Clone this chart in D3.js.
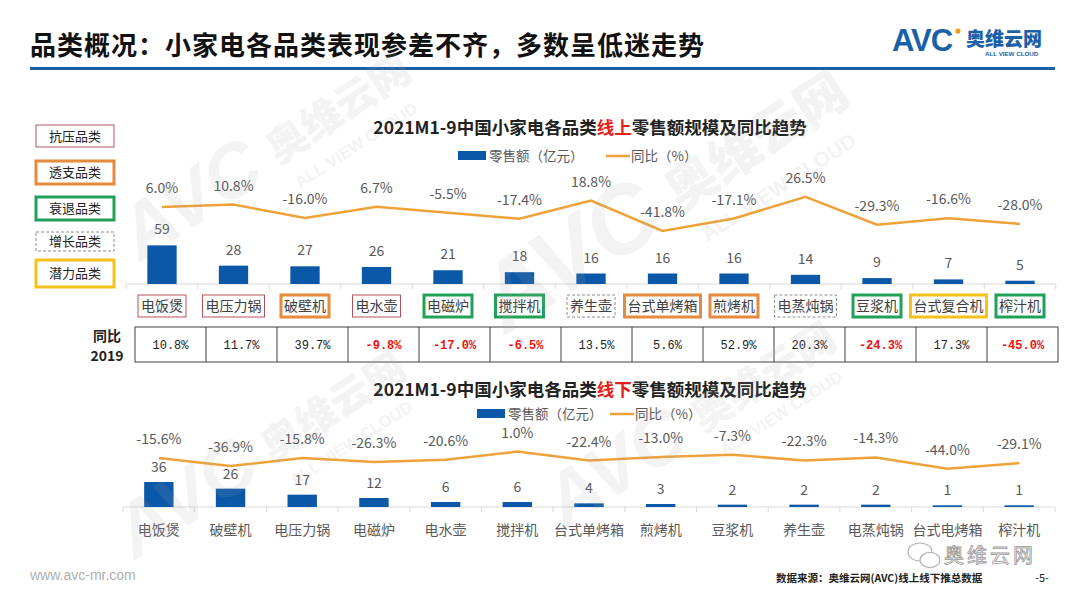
<!DOCTYPE html>
<html><head><meta charset="utf-8">
<script src="https://cdn.jsdelivr.net/npm/d3@7"></script>
<style>
body{margin:0;background:#fff;}
svg{display:block;font-family:"Noto Sans CJK SC","Noto Sans",sans-serif;}
</style></head><body>
<svg id="c" width="1080" height="608"></svg>
<script>
// ---------- data ----------
const pageTitle = "品类概况：小家电各品类表现参差不齐，多数呈低迷走势";
const onlineCats = ["电饭煲","电压力锅","破壁机","电水壶","电磁炉","搅拌机","养生壶","台式单烤箱","煎烤机","电蒸炖锅","豆浆机","台式复合机","榨汁机"];
const onlineSales = [59,28,27,26,21,18,16,16,16,14,9,7,5];
const onlineYoY = [6.0,10.8,-16.0,6.7,-5.5,-17.4,18.8,-41.8,-17.1,26.5,-29.3,-16.6,-28.0];
const onlineTypes = ["抗压","抗压","透支","抗压","衰退","衰退","增长","透支","透支","增长","衰退","潜力","衰退"];
const yoy2019 = [10.8,11.7,39.7,-9.8,-17.0,-6.5,13.5,5.6,52.9,20.3,-24.3,17.3,-45.0];
const offlineCats = ["电饭煲","破壁机","电压力锅","电磁炉","电水壶","搅拌机","台式单烤箱","煎烤机","豆浆机","养生壶","电蒸炖锅","台式电烤箱","榨汁机"];
const offlineSales = [36,26,17,12,6,6,4,3,2,2,2,1,1];
const offlineYoY = [-15.6,-36.9,-15.8,-26.3,-20.6,1.0,-22.4,-13.0,-7.3,-22.3,-14.3,-44.0,-29.1];
const typeKeys = ["抗压","透支","衰退","增长","潜力"];
const legendSales = "零售额（亿元）";
const legendYoY = "同比（%）";

// ---------- styles ----------
const BLUE = "#0b58a8", ORANGE = "#eea23a";
const typeStyle = {
  "抗压": {stroke:"#b5535c", w:1, dash:null},
  "透支": {stroke:"#e58a3e", w:3, dash:null},
  "衰退": {stroke:"#20a157", w:3, dash:null},
  "增长": {stroke:"#8c8c8c", w:1, dash:"3,2"},
  "潜力": {stroke:"#f5c21b", w:3, dash:null}
};

const svg = d3.select("#c");
svg.append("rect").attr("width",1080).attr("height",608).attr("fill","#fff");

// ---------- header ----------
svg.append("text").attr("x",30).attr("y",55).attr("font-size",26).attr("font-weight",700)
  .attr("letter-spacing",1).attr("fill","#111").text(pageTitle);
svg.append("rect").attr("x",30).attr("y",67).attr("width",1025).attr("height",3).attr("fill","#1d5ea8");
const logo = svg.append("g");
logo.append("text").attr("x",892).attr("y",51).attr("font-family","Liberation Sans, Arial, sans-serif")
  .attr("font-size",31).attr("font-weight",900).attr("fill","#1a5fa8").attr("letter-spacing",-1).text("AVC");
logo.append("circle").attr("cx",958).attr("cy",31).attr("r",2.6).attr("fill","#f39a1e");
logo.append("text").attr("x",966).attr("y",46).attr("font-size",19).attr("font-weight",900).attr("fill","#1a5fa8").text("奥维云网");
logo.append("text").attr("x",985).attr("y",56).attr("font-family","Liberation Sans, Arial, sans-serif")
  .attr("font-size",6.2).attr("font-weight",700).attr("fill","#1a5fa8").text("ALL VIEW CLOUD");

// ---------- left legend of category types ----------
const legendBoxes = [[125,147],[161,184],[197,220],[232,251],[260,287]];
typeKeys.forEach((k,i)=>{
  const s = typeStyle[k], [y0,y1] = legendBoxes[i];
  svg.append("rect").attr("x",36).attr("y",y0).attr("width",78).attr("height",y1-y0)
    .attr("fill","#fff").attr("stroke",s.stroke).attr("stroke-width",s.w)
    .attr("stroke-dasharray",s.dash);
  svg.append("text").attr("x",75).attr("y",(y0+y1)/2+4.5).attr("text-anchor","middle")
    .attr("font-size",13).attr("fill","#222").text(k+"品类");
});

// ---------- chart title helper ----------
function chartTitle(y, word){
  const t = svg.append("text").attr("x",590).attr("y",y).attr("text-anchor","middle")
    .attr("font-size",17.5).attr("font-weight",700).attr("fill","#222");
  t.append("tspan").text("2021M1-9中国小家电各品类");
  t.append("tspan").attr("fill","#e3201b").text(word);
  t.append("tspan").text("零售额规模及同比趋势");
}
function legend(y, rx, lx){
  svg.append("rect").attr("x",rx).attr("y",y-5).attr("width",28).attr("height",9).attr("fill",BLUE);
  svg.append("text").attr("x",rx+31).attr("y",y+4.5).attr("font-size",13.5).attr("fill","#595959").text(legendSales);
  svg.append("line").attr("x1",lx).attr("x2",lx+24).attr("y1",y).attr("y2",y).attr("stroke",ORANGE).attr("stroke-width",2.5);
  svg.append("text").attr("x",lx+25).attr("y",y+4.5).attr("font-size",13.5).attr("fill","#595959").text(legendYoY);
}
function axisLine(x, y, cats){
  const r = x.range();
  svg.append("line").attr("x1",r[0]).attr("x2",r[1]).attr("y1",y).attr("y2",y).attr("stroke","#d9d9d9").attr("stroke-width",1);
  const edges = cats.map(c=>x(c)).concat([r[1]]);
  svg.selectAll(null).data(edges).enter().append("line")
    .attr("x1",d=>d).attr("x2",d=>d).attr("y1",y).attr("y2",y+5).attr("stroke","#d9d9d9");
}
function fmt(v){ return v.toFixed(1)+"%"; }

function watermark(x,y,s){
  const g = svg.append("g").attr("transform",`translate(${x},${y}) rotate(-33) scale(${s})`)
    .attr("fill","#a8a8a8").attr("opacity",0.13).style("pointer-events","none");
  g.append("text").attr("x",0).attr("y",0).attr("font-family","Liberation Sans, Arial, sans-serif")
    .attr("font-size",100).attr("font-weight",900).attr("font-style","italic").text("AVC");
  g.append("text").attr("x",225).attr("y",-8).attr("font-size",54).attr("font-weight",900).text("奥维云网");
  g.append("text").attr("x",232).attr("y",34).attr("font-family","Liberation Sans, Arial, sans-serif")
    .attr("font-size",22).attr("font-weight",700).text("ALL VIEW CLOUD");
}

// ---------- top (online) chart ----------
chartTitle(134,"线上");
legend(156, 458, 606);
const xTop = d3.scaleBand().domain(onlineCats).range([126.25,1055.75]).padding(0);
const barW = xTop.bandwidth()*0.41;
const yTopBar = d3.scaleLinear().domain([0,60]).range([284,244.7]);
const yTopLine = d3.scaleLinear().domain([-50,30]).range([235,195]);
axisLine(xTop, 284, onlineCats);
const cx = (x,c)=> x(c)+x.bandwidth()/2;
svg.selectAll(".bt").data(onlineCats).enter().append("rect")
  .attr("x",c=>cx(xTop,c)-barW/2).attr("width",barW)
  .attr("y",(c,i)=>yTopBar(onlineSales[i])).attr("height",(c,i)=>yTopBar(0)-yTopBar(onlineSales[i]))
  .attr("fill",BLUE);
svg.selectAll(".btl").data(onlineCats).enter().append("text")
  .attr("x",c=>cx(xTop,c)).attr("y",(c,i)=>yTopBar(onlineSales[i])-11)
  .attr("text-anchor","middle").attr("font-size",14).attr("fill","#595959").text((c,i)=>onlineSales[i]);
const lineTop = d3.line().x((d,i)=>cx(xTop,onlineCats[i])).y(d=>yTopLine(d));
svg.append("path").datum(onlineYoY).attr("d",lineTop).attr("fill","none").attr("stroke",ORANGE).attr("stroke-width",2.5);
svg.selectAll(".ltl").data(onlineYoY).enter().append("text")
  .attr("x",(d,i)=>cx(xTop,onlineCats[i])).attr("y",d=>yTopLine(d)-14)
  .attr("text-anchor","middle").attr("font-size",14).attr("fill","#595959").text(d=>fmt(d));
onlineCats.forEach((c,i)=>{
  const s = typeStyle[onlineTypes[i]];
  const g = svg.append("g");
  const t = g.append("text").attr("x",cx(xTop,c)).attr("y",311).attr("text-anchor","middle")
    .attr("font-size",14).attr("fill","#404040").text(c);
  const w = t.node().getComputedTextLength()+6;
  g.insert("rect","text").attr("x",cx(xTop,c)-w/2).attr("y",295).attr("width",w).attr("height",22)
    .attr("fill","#fff").attr("stroke",s.stroke).attr("stroke-width",s.w).attr("stroke-dasharray",s.dash);
});

// ---------- 2019 table ----------
const xTab = d3.scaleBand().domain(onlineCats).range([135,1058]).padding(0);
svg.append("text").attr("x",107).attr("y",341).attr("text-anchor","middle").attr("font-size",14).attr("font-weight",700).attr("fill","#222").text("同比");
svg.append("text").attr("x",107).attr("y",361).attr("text-anchor","middle").attr("font-size",14).attr("font-weight",700).attr("fill","#222").text("2019");
svg.append("rect").attr("x",135).attr("y",327).attr("width",923).attr("height",35).attr("fill","none").attr("stroke","#404040").attr("stroke-width",1);
svg.selectAll(".tv").data(onlineCats.slice(1)).enter().append("line")
  .attr("x1",c=>xTab(c)).attr("x2",c=>xTab(c)).attr("y1",327).attr("y2",362).attr("stroke","#404040");
svg.selectAll(".tt").data(onlineCats).enter().append("text")
  .attr("x",c=>xTab(c)+xTab.bandwidth()/2).attr("y",349).attr("text-anchor","middle")
  .attr("font-family","Liberation Mono, DejaVu Sans Mono, monospace").attr("font-size",12)
  .attr("font-weight",(c,i)=>yoy2019[i]<0?700:400)
  .attr("fill",(c,i)=>yoy2019[i]<0?"#f01010":"#222").text((c,i)=>fmt(yoy2019[i]));

// ---------- bottom (offline) chart ----------
chartTitle(396,"线下");
legend(414, 477, 610);
const xBot = d3.scaleBand().domain(offlineCats).range([123,1055]).padding(0);
const yBotBar = d3.scaleLinear().domain([0,36]).range([507,483]);
const yBotLine = d3.scaleLinear().domain([-50,10]).range([471,448.2]);
axisLine(xBot, 507, offlineCats);
const barW2 = xBot.bandwidth()*0.41;
svg.selectAll(".bb").data(offlineCats).enter().append("rect")
  .attr("x",c=>cx(xBot,c)-barW2/2).attr("width",barW2)
  .attr("y",(c,i)=>yBotBar(offlineSales[i])-1).attr("height",(c,i)=>yBotBar(0)-yBotBar(offlineSales[i])+1)
  .attr("fill",BLUE);
svg.selectAll(".bbl").data(offlineCats).enter().append("text")
  .attr("x",c=>cx(xBot,c)).attr("y",(c,i)=>yBotBar(offlineSales[i])-11)
  .attr("text-anchor","middle").attr("font-size",14).attr("fill","#595959").text((c,i)=>offlineSales[i]);
const lineBot = d3.line().x((d,i)=>cx(xBot,offlineCats[i])).y(d=>yBotLine(d));
svg.append("path").datum(offlineYoY).attr("d",lineBot).attr("fill","none").attr("stroke",ORANGE).attr("stroke-width",2.5);
svg.selectAll(".lbl").data(offlineYoY).enter().append("text")
  .attr("x",(d,i)=>cx(xBot,offlineCats[i])).attr("y",d=>yBotLine(d)-14)
  .attr("text-anchor","middle").attr("font-size",14).attr("fill","#595959").text(d=>fmt(d));
svg.selectAll(".bxl").data(offlineCats).enter().append("text")
  .attr("x",c=>cx(xBot,c)).attr("y",535).attr("text-anchor","middle")
  .attr("font-size",14).attr("fill","#595959").text(c=>c);

watermark(505,335,0.95);
watermark(140,262,0.75);
watermark(135,560,0.75);
watermark(565,530,0.75);

// ---------- footer ----------
svg.append("text").attr("x",30).attr("y",580).attr("font-family","Liberation Sans, Arial, sans-serif")
  .attr("font-size",14).attr("fill","#b0b0b0").text("www.avc-mr.com");
const wm = svg.append("g").attr("fill","none").attr("stroke","#b0b0b0").attr("stroke-width",1.2);
wm.append("ellipse").attr("cx",920).attr("cy",552).attr("rx",12).attr("ry",9);
wm.append("ellipse").attr("cx",930).attr("cy",560).attr("rx",10).attr("ry",7.5).attr("fill","#fff");
svg.append("text").attr("x",944).attr("y",563).attr("font-size",20).attr("fill","#fff")
  .attr("stroke","#9a9a9a").attr("stroke-width",0.8).attr("letter-spacing",3).text("奥维云网");
svg.append("text").attr("x",776).attr("y",582).attr("font-size",10.5).attr("font-weight",700).attr("fill","#222")
  .text("数据来源：奥维云网(AVC)线上线下推总数据");
svg.append("text").attr("x",1042).attr("y",582).attr("text-anchor","middle").attr("font-size",11).attr("fill","#222").text("-5-");
</script>
</body></html>
